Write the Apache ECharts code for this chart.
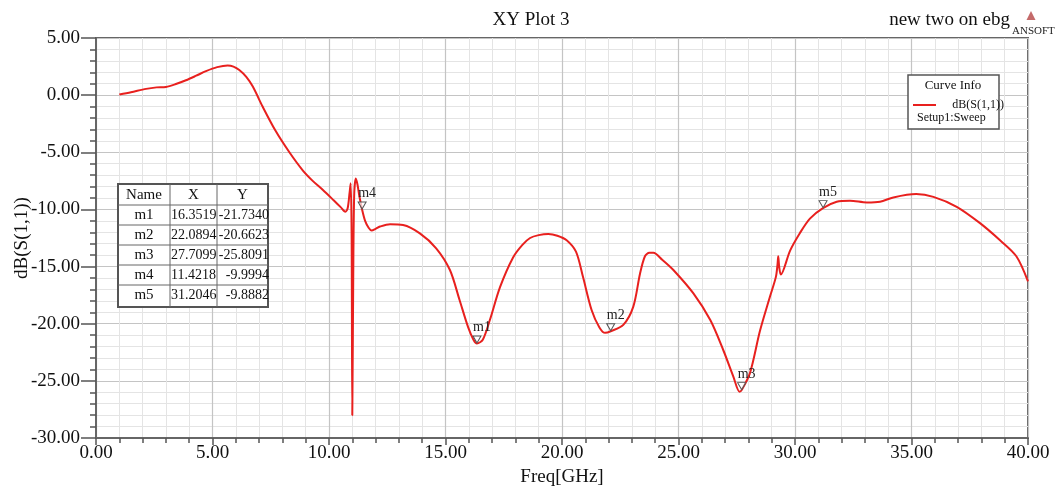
<!DOCTYPE html>
<html>
<head>
<meta charset="utf-8">
<script src="https://cdn.jsdelivr.net/npm/echarts@6/dist/echarts.min.js"></script>
<style>
html,body{margin:0;padding:0;background:#fff;}
#chart{width:1062px;height:490px;}
</style>
</head>
<body>
<div id="chart"></div>
<script>
// ---- data ----
var freq = [1.0, 1.5, 2.15, 2.6, 3.0, 3.4, 3.86, 4.3, 4.72, 5.2, 5.65, 5.9, 6.15, 6.45, 6.73, 7.15, 7.7, 8.3, 8.88, 9.3, 9.74, 10.2, 10.5, 10.7, 10.8, 10.88, 10.93, 10.97, 11.0, 11.04, 11.08, 11.15, 11.22, 11.3, 11.42, 11.55, 11.7, 11.83, 12.0, 12.19, 12.62, 13.18, 13.9, 14.6, 15.19, 15.6, 15.97, 16.2, 16.35, 16.6, 16.9, 17.34, 17.9, 18.3, 18.63, 19.0, 19.41, 19.8, 20.2, 20.6, 20.9, 21.27, 21.6, 21.85, 22.09, 22.63, 23.06, 23.35, 23.56, 23.75, 23.92, 24.3, 24.78, 25.64, 26.37, 26.92, 27.35, 27.62, 27.71, 28.07, 28.5, 28.93, 29.18, 29.25, 29.28, 29.32, 29.39, 29.79, 30.2, 30.64, 31.2, 31.79, 32.36, 33.08, 33.65, 34.22, 35.2, 35.94, 36.94, 37.94, 38.8, 39.5, 40.0];
var s11 = [0.05, 0.25, 0.55, 0.68, 0.72, 0.95, 1.3, 1.7, 2.1, 2.45, 2.6, 2.5, 2.2, 1.6, 0.75, -1.0, -3.1, -5.0, -6.6, -7.5, -8.3, -9.2, -9.8, -10.2, -9.9, -8.6, -7.7, -12.0, -28.0, -16.0, -8.8, -7.3, -7.8, -8.8, -10.0, -11.0, -11.6, -11.85, -11.7, -11.5, -11.3, -11.37, -12.1, -13.4, -15.3, -17.9, -20.3, -21.4, -21.73, -21.4, -19.7, -16.8, -14.2, -13.1, -12.5, -12.25, -12.15, -12.3, -12.7, -13.7, -15.9, -18.8, -20.3, -20.8, -20.66, -20.1, -18.5, -15.6, -14.1, -13.8, -13.8, -14.4, -15.3, -17.35, -19.7, -22.3, -24.6, -25.95, -25.81, -24.3, -20.6, -17.6, -15.9, -14.8, -14.1, -15.0, -15.7, -13.6, -12.1, -10.8, -9.89, -9.33, -9.24, -9.39, -9.33, -8.95, -8.66, -8.9, -9.77, -11.2, -12.7, -14.1, -16.3];

var markerNames = ['m1', 'm2', 'm3', 'm4', 'm5'];
var markerX = [16.3519, 22.0894, 27.7099, 11.4218, 31.2046];
var markerY = [-21.7340, -20.6623, -25.8091, -9.9994, -9.8882];
var markerXText = ['16.3519', '22.0894', '27.7099', '11.4218', '31.2046'];
var markerYText = ['-21.7340', '-20.6623', '-25.8091', '-9.9994', '-9.8882'];

var FONT = '"Liberation Serif", "DejaVu Serif", serif';

var chart = echarts.init(document.getElementById('chart'));

// marker table graphics
var tbl = {x: 118, y: 184, cols: [0, 52, 99, 150], hdrH: 21, rowH: 20};
var tableEls = [];
var totalH = tbl.hdrH + tbl.rowH * markerNames.length + 2;
tableEls.push({type: 'rect', shape: {x: tbl.x, y: tbl.y, width: 150, height: totalH},
  style: {fill: '#fff', stroke: '#555', lineWidth: 2}, z: 100});
for (var c = 1; c < 3; c++) {
  tableEls.push({type: 'line', shape: {x1: tbl.x + tbl.cols[c], y1: tbl.y, x2: tbl.x + tbl.cols[c], y2: tbl.y + totalH},
    style: {stroke: '#666', lineWidth: 1}, z: 101});
}
for (var r = 0; r < markerNames.length; r++) {
  var ly = tbl.y + tbl.hdrH + r * tbl.rowH;
  tableEls.push({type: 'line', shape: {x1: tbl.x, y1: ly, x2: tbl.x + 150, y2: ly},
    style: {stroke: '#666', lineWidth: 1}, z: 101});
}
var hdr = ['Name', 'X', 'Y'];
for (var h = 0; h < 3; h++) {
  tableEls.push({type: 'text', x: tbl.x + (tbl.cols[h] + tbl.cols[h + 1]) / 2, y: tbl.y + tbl.hdrH / 2 + 1,
    style: {text: hdr[h], font: '15px ' + FONT, fill: '#111', align: 'center', verticalAlign: 'middle'}, z: 102});
}
for (var i = 0; i < markerNames.length; i++) {
  var cy = tbl.y + tbl.hdrH + i * tbl.rowH + tbl.rowH / 2;
  tableEls.push({type: 'text', x: tbl.x + 26, y: cy,
    style: {text: markerNames[i], font: '15px ' + FONT, fill: '#111', align: 'center', verticalAlign: 'middle'}, z: 102});
  tableEls.push({type: 'text', x: tbl.x + 53, y: cy,
    style: {text: markerXText[i], font: '14px ' + FONT, fill: '#111', align: 'left', verticalAlign: 'middle'}, z: 102});
  tableEls.push({type: 'text', x: tbl.x + 151, y: cy,
    style: {text: markerYText[i], font: '14px ' + FONT, fill: '#111', align: 'right', verticalAlign: 'middle'}, z: 102});
}

var legendEls = [
  {type: 'rect', shape: {x: 908, y: 75, width: 91, height: 54}, style: {fill: '#fff', stroke: '#555', lineWidth: 1.5}, z: 100},
  {type: 'text', x: 953, y: 86, style: {text: 'Curve Info', font: '13px ' + FONT, fill: '#111', align: 'center', verticalAlign: 'middle'}, z: 101},
  {type: 'line', shape: {x1: 913, y1: 105, x2: 936, y2: 105}, style: {stroke: '#e8201e', lineWidth: 2}, z: 101},
  {type: 'text', x: 1004, y: 105, style: {text: 'dB(S(1,1))', font: '12px ' + FONT, fill: '#111', align: 'right', verticalAlign: 'middle'}, z: 101},
  {type: 'text', x: 917, y: 118, style: {text: 'Setup1:Sweep', font: '12px ' + FONT, fill: '#111', align: 'left', verticalAlign: 'middle'}, z: 101}
];

var headerEls = [
  {type: 'text', x: 1010, y: 20, style: {text: 'new two on ebg', font: '19px ' + FONT, fill: '#111', align: 'right', verticalAlign: 'middle'}},
  {type: 'text', x: 1012, y: 31, style: {text: 'ANSOFT', font: '11px ' + FONT, fill: '#222', align: 'left', verticalAlign: 'middle'}},
  {type: 'polygon', shape: {points: [[1031, 11], [1026.5, 20], [1035.5, 20]]}, style: {fill: '#c46a6a'}}
];

var option = {
  backgroundColor: '#fff',
  animation: false,
  title: {
    text: 'XY Plot 3', left: 'center', top: 6,
    textStyle: {fontFamily: FONT, fontSize: 19, fontWeight: 'normal', color: '#111'}
  },
  grid: {left: 96, right: 34, top: 38, bottom: 52, containLabel: false, outerBoundsMode: 'none',
    show: true, borderColor: '#666', borderWidth: 2, backgroundColor: 'transparent'},
  xAxis: {
    type: 'value', min: 0, max: 40, interval: 5,
    name: 'Freq[GHz]', nameLocation: 'middle', nameGap: 30, nameMoveOverlap: false,
    nameTextStyle: {fontFamily: FONT, fontSize: 19, color: '#111'},
    axisLine: {show: true, onZero: false, lineStyle: {color: '#666', width: 2}},
    axisTick: {show: true, length: 7, lineStyle: {color: '#555', width: 1.5}},
    minorTick: {show: true, splitNumber: 5, length: 5, lineStyle: {color: '#555', width: 1.5}},
    axisLabel: {fontFamily: FONT, fontSize: 19, color: '#111', margin: 6,
      formatter: function (v) { return v.toFixed(2); }},
    splitLine: {show: true, lineStyle: {color: '#c4c4c4', width: 1.2}},
    minorSplitLine: {show: true, lineStyle: {color: '#e4e4e4', width: 1}}
  },
  yAxis: {
    type: 'value', min: -30, max: 5, interval: 5,
    name: 'dB(S(1,1))', nameLocation: 'middle', nameGap: 64, nameRotate: 90, nameMoveOverlap: false,
    nameTextStyle: {fontFamily: FONT, fontSize: 19, color: '#111'},
    axisLine: {show: true, onZero: false, lineStyle: {color: '#666', width: 2}},
    axisTick: {show: true, length: 15, lineStyle: {color: '#555', width: 1.5}},
    minorTick: {show: true, splitNumber: 5, length: 6, lineStyle: {color: '#555', width: 1.5}},
    axisLabel: {fontFamily: FONT, fontSize: 19, color: '#111', margin: 16,
      formatter: function (v) { return v.toFixed(2); }},
    splitLine: {show: true, lineStyle: {color: '#c4c4c4', width: 1.2}},
    minorSplitLine: {show: true, lineStyle: {color: '#e4e4e4', width: 1}}
  },
  series: [{
    type: 'line',
    name: 'dB(S(1,1))',
    data: freq.map(function (f, k) { return [f, s11[k]]; }),
    showSymbol: false,
    smooth: 0.3,
    lineStyle: {color: '#e8201e', width: 2},
    itemStyle: {color: '#e8201e'},
    markPoint: {
      symbol: 'triangle', symbolSize: [8, 7], symbolRotate: 180, symbolOffset: [0, -4],
      itemStyle: {color: 'rgba(255,255,255,0.7)', borderColor: '#555', borderWidth: 1},
      label: {show: true, position: 'top', distance: 1, offset: [5, 0], formatter: '{b}',
        fontFamily: FONT, fontSize: 14, color: '#222'},
      data: markerNames.map(function (n, k) { return {name: n, coord: [markerX[k], markerY[k]]}; })
    }
  }],
  graphic: [].concat(headerEls, legendEls, tableEls)
};
chart.setOption(option);
</script>
</body>
</html>
